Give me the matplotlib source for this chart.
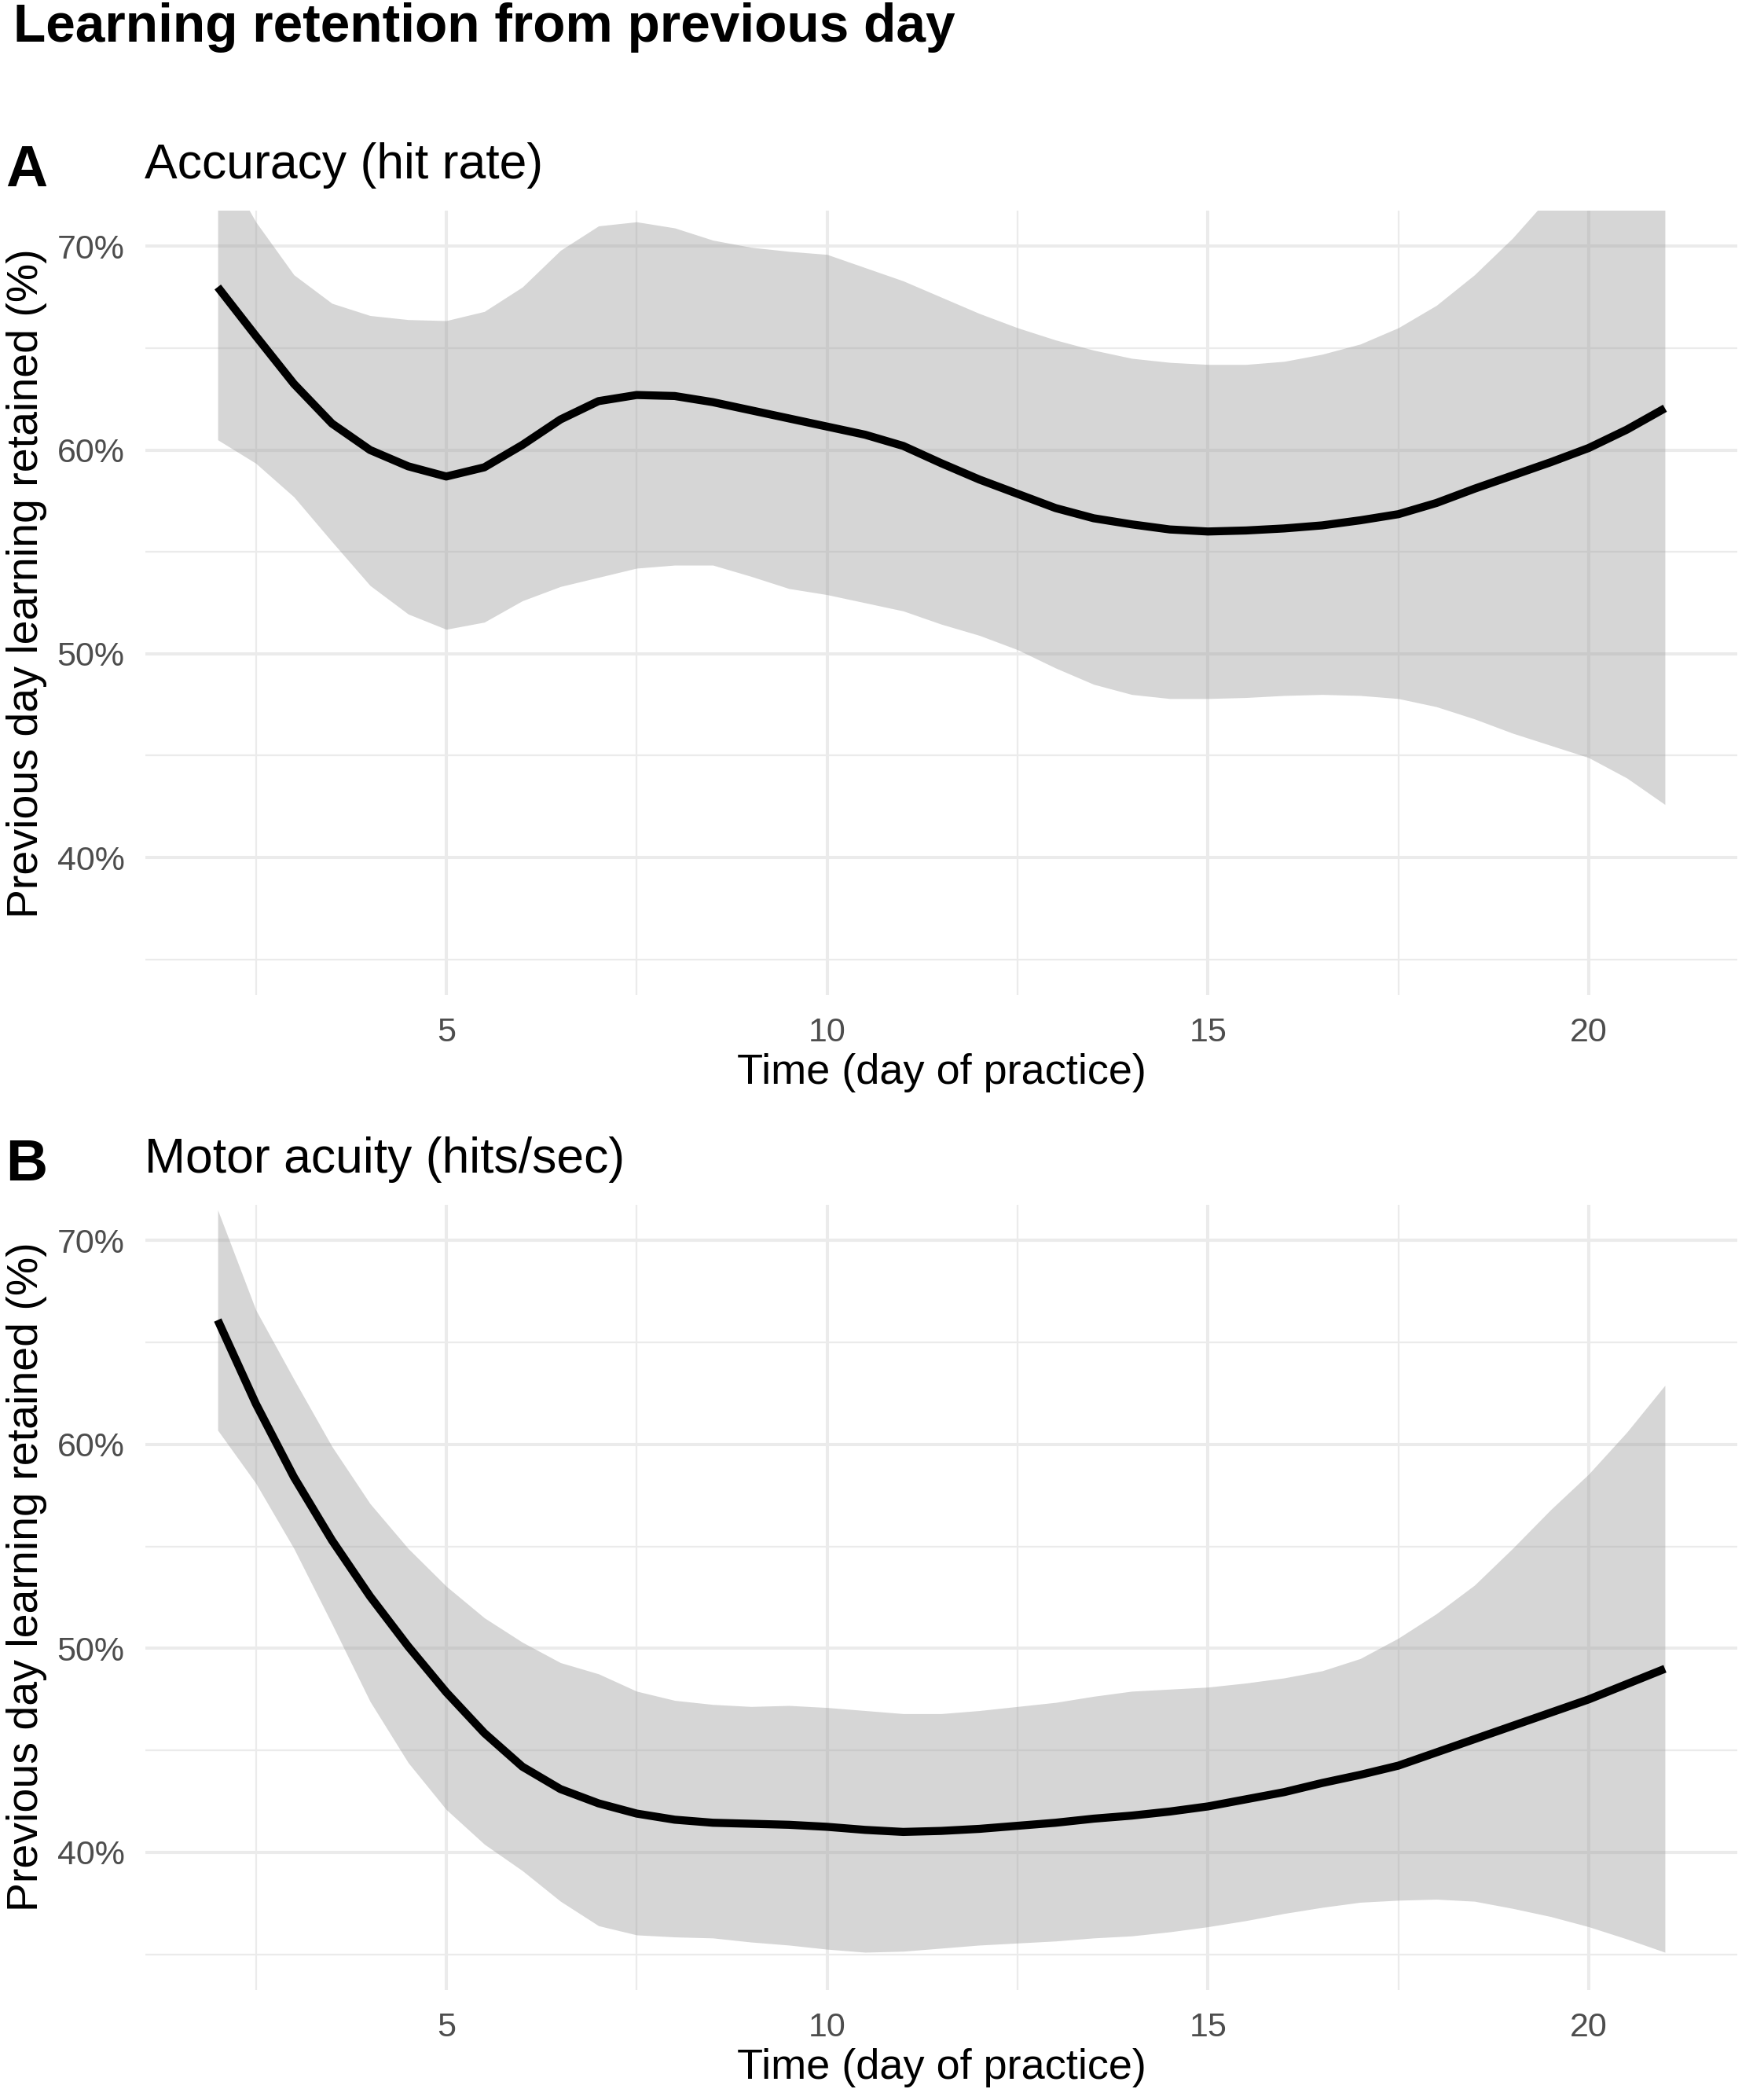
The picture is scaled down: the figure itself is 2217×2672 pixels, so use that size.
import matplotlib
matplotlib.use("Agg")
import matplotlib.pyplot as plt
from matplotlib.ticker import FixedLocator, FuncFormatter

# ---------------- data ----------------
days = [2.0, 2.5, 3.0, 3.5, 4.0, 4.5, 5.0, 5.5, 6.0, 6.5, 7.0, 7.5, 8.0, 8.5,
        9.0, 9.5, 10.0, 10.5, 11.0, 11.5, 12.0, 12.5, 13.0, 13.5, 14.0, 14.5,
        15.0, 15.5, 16.0, 16.5, 17.0, 17.5, 18.0, 18.5, 19.0, 19.5, 20.0, 20.5, 21.0]

accuracy_fit = [68.0, 65.6, 63.25, 61.3, 60.0, 59.2, 58.7, 59.15, 60.25, 61.5, 62.4, 62.7,
                62.65, 62.35, 61.95, 61.55, 61.15, 60.75, 60.2, 59.35, 58.55, 57.85, 57.15,
                56.65, 56.35, 56.1, 56.0, 56.05, 56.15, 56.3, 56.55, 56.85, 57.4, 58.1,
                58.75, 59.4, 60.1, 61.0, 62.05]
accuracy_upper = [74.5, 71.2, 68.6, 67.2, 66.6, 66.4, 66.35, 66.8, 68.0, 69.8, 71.0, 71.2,
                  70.9, 70.3, 69.95, 69.75, 69.6, 68.95, 68.3, 67.5, 66.7, 66.0, 65.4,
                  64.9, 64.5, 64.3, 64.2, 64.2, 64.35, 64.7, 65.2, 66.0, 67.1, 68.6,
                  70.4, 72.5, 74.5, 76.5, 78.5]
accuracy_lower = [60.5, 59.35, 57.7, 55.5, 53.35, 51.95, 51.2, 51.55, 52.6, 53.3, 53.75,
                  54.2, 54.35, 54.35, 53.8, 53.2, 52.9, 52.5, 52.1, 51.45, 50.9, 50.2,
                  49.3, 48.5, 48.0, 47.8, 47.8, 47.85, 47.95, 48.0, 47.95, 47.8, 47.4,
                  46.8, 46.1, 45.5, 44.9, 43.9, 42.6]

acuity_fit = [66.1, 62.0, 58.4, 55.3, 52.55, 50.1, 47.85, 45.85, 44.2, 43.1, 42.4, 41.9,
              41.6, 41.45, 41.4, 41.35, 41.25, 41.1, 41.0, 41.05, 41.15, 41.3, 41.45,
              41.65, 41.8, 42.0, 42.25, 42.6, 42.95, 43.4, 43.8, 44.25, 44.9, 45.55,
              46.2, 46.85, 47.5, 48.25, 49.0]
acuity_upper = [71.5, 66.6, 63.2, 59.9, 57.1, 54.9, 53.05, 51.5, 50.3, 49.3, 48.75, 47.9,
                47.45, 47.25, 47.15, 47.2, 47.1, 46.95, 46.8, 46.8, 46.95, 47.15, 47.35,
                47.65, 47.9, 48.0, 48.1, 48.3, 48.55, 48.9, 49.5, 50.5, 51.7, 53.1,
                54.9, 56.8, 58.55, 60.6, 62.9]
acuity_lower = [60.7, 58.1, 54.9, 51.2, 47.4, 44.4, 42.1, 40.4, 39.1, 37.6, 36.4, 35.95,
                35.85, 35.8, 35.6, 35.45, 35.25, 35.1, 35.15, 35.3, 35.45, 35.55, 35.65,
                35.8, 35.9, 36.1, 36.35, 36.65, 37.0, 37.3, 37.55, 37.65, 37.7, 37.6,
                37.25, 36.85, 36.35, 35.75, 35.1]

x_major = [5, 10, 15, 20]
x_minor = [2.5, 7.5, 12.5, 17.5]
y_major = [40, 50, 60, 70]
y_minor = [35, 45, 55, 65]

title = "Learning retention from previous day"
panel_tags = ["A", "B"]
panel_titles = ["Accuracy (hit rate)", "Motor acuity (hits/sec)"]
x_label = "Time (day of practice)"
y_label = "Previous day learning retained (%)"

# ---------------- figure ----------------
W, H = 2217, 2672
plt.rcParams["font.family"] = ["Liberation Sans", "DejaVu Sans"]
fig = plt.figure(figsize=(W / 100, H / 100), dpi=100)
fig.patch.set_facecolor("white")


def fx(px):
    return px / W


def fy(py):
    return 1 - py / H


left, right = 185, 2211
panels = [(268, 1266), (1533, 2532)]
series = [(accuracy_fit, accuracy_lower, accuracy_upper),
          (acuity_fit, acuity_lower, acuity_upper)]
title_baselines = [227, 1492]
tag_baselines = [237, 1502]
ylabel_centers = [742, 2006]

fig.text(fx(17), fy(53), title, fontsize=48.7, fontweight="bold", ha="left",
         va="baseline", color="black")

for i, ((top, bot), (fit, lo, hi)) in enumerate(zip(panels, series)):
    ax = fig.add_axes([fx(left), fy(bot), fx(right) - fx(left), (bot - top) / H])
    ax.set_xlim(1.05, 21.95)
    ax.set_ylim(33.25, 71.75)
    ax.xaxis.set_major_locator(FixedLocator(x_major))
    ax.xaxis.set_minor_locator(FixedLocator(x_minor))
    ax.yaxis.set_major_locator(FixedLocator(y_major))
    ax.yaxis.set_minor_locator(FixedLocator(y_minor))
    ax.yaxis.set_major_formatter(FuncFormatter(lambda v, p: f"{v:.0f}%"))
    ax.grid(which="major", color="#ebebeb", lw=2.9)
    ax.grid(which="minor", color="#ebebeb", lw=1.6)
    ax.set_axisbelow(True)
    for s in ax.spines.values():
        s.set_visible(False)
    ax.tick_params(which="both", length=0)
    ax.tick_params(axis="x", which="major", labelsize=31, labelcolor="#4d4d4d", pad=20)
    ax.tick_params(axis="y", which="major", labelsize=31, labelcolor="#4d4d4d", pad=19)

    ax.fill_between(days, lo, hi, color="#999999", alpha=0.4, lw=0, zorder=2)
    ax.plot(days, fit, color="black", lw=7.4, solid_capstyle="butt",
            solid_joinstyle="round", zorder=3)

    fig.text(fx(7), fy(tag_baselines[i]), panel_tags[i], fontsize=53,
             fontweight="bold", ha="left", va="baseline")
    fig.text(fx(184), fy(title_baselines[i]), panel_titles[i], fontsize=45,
             ha="left", va="baseline")
    fig.text(fx(34), fy(ylabel_centers[i]), y_label, fontsize=40, rotation=90,
             ha="center", va="center")
    fig.text(fx(1198), fy(bot + 99), x_label, fontsize=39, ha="center", va="center")

fig.savefig("out.png", dpi=100, facecolor="white")
